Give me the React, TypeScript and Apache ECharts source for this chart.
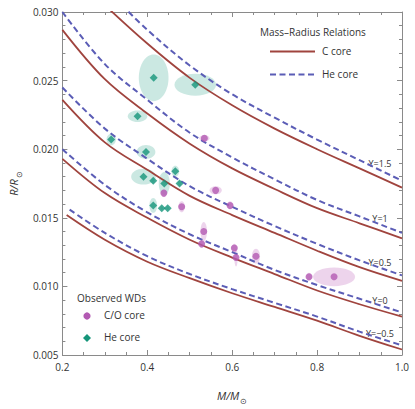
import React, { useEffect, useRef } from "react";
import * as echarts from "echarts";

// Mass–radius relations, [M/Msun, R/Rsun]
const cY15 = [[0.30, 0.0305], [0.4, 0.0277], [0.5, 0.0252], [0.6, 0.0232], [0.7, 0.0215], [0.8, 0.0200], [0.9, 0.0186], [1.0, 0.0172]];
const heY15 = [[0.34, 0.0305], [0.4, 0.0287], [0.5, 0.0261], [0.6, 0.0240], [0.7, 0.0223], [0.8, 0.0207], [0.9, 0.0192], [1.0, 0.0177]];
const cY10 = [[0.2, 0.0287], [0.3, 0.0251], [0.4, 0.0226], [0.5, 0.0204], [0.6, 0.0186], [0.7, 0.0171], [0.8, 0.0157], [0.9, 0.0146], [1.0, 0.0135]];
const heY10 = [[0.2, 0.0300], [0.3, 0.0262], [0.4, 0.0236], [0.5, 0.0212], [0.6, 0.0194], [0.7, 0.0178], [0.8, 0.0163], [0.9, 0.0151], [1.0, 0.0139]];
const cY05 = [[0.2, 0.0236], [0.3, 0.0205], [0.4, 0.0185], [0.5, 0.0166], [0.6, 0.0152], [0.7, 0.0139], [0.8, 0.0126], [0.9, 0.0114], [1.0, 0.0104]];
const heY05 = [[0.2, 0.0245], [0.3, 0.0215], [0.4, 0.0193], [0.5, 0.0173], [0.6, 0.0158], [0.7, 0.0144], [0.8, 0.0131], [0.9, 0.0119], [1.0, 0.0108]];
const cY00 = [[0.2, 0.0193], [0.3, 0.0168], [0.4, 0.0150], [0.5, 0.0134], [0.6, 0.0121], [0.7, 0.0109], [0.8, 0.0097], [0.9, 0.0087], [1.0, 0.0078]];
const heY00 = [[0.2, 0.0200], [0.3, 0.0174], [0.4, 0.0154], [0.5, 0.0138], [0.6, 0.0125], [0.7, 0.0112], [0.8, 0.0101], [0.9, 0.0091], [1.0, 0.0081]];
const cYm05 = [[0.21, 0.0152], [0.3, 0.0134], [0.4, 0.0118], [0.5, 0.0106], [0.6, 0.0095], [0.7, 0.0085], [0.8, 0.0075], [0.9, 0.0064], [1.0, 0.0054]];
const heYm05 = [[0.217, 0.0156], [0.3, 0.0139], [0.4, 0.0122], [0.5, 0.0109], [0.6, 0.0098], [0.7, 0.0088], [0.8, 0.0078], [0.9, 0.0067], [1.0, 0.0057]];

// Observed WDs: [M, R, halfWidth dM, halfHeight dR]
const heCoreWDs = [
  [0.415, 0.0252, 0.035, 0.0017],
  [0.513, 0.0247, 0.049, 0.0008],
  [0.377, 0.0224, 0.023, 0.00042],
  [0.315, 0.0207, 0.011, 0.00042],
  [0.397, 0.0198, 0.022, 0.0005],
  [0.466, 0.0184, 0.009, 0.0004],
  [0.391, 0.0180, 0.029, 0.00057],
  [0.414, 0.0177, 0.004, 0.0002],
  [0.440, 0.0175, 0.013, 0.00083],
  [0.476, 0.0175, 0.004, 0.0002],
  [0.414, 0.0159, 0.009, 0.00054],
  [0.434, 0.0157, 0.003, 0.00015],
  [0.448, 0.0157, 0.003, 0.00015],
];
const coCoreWDs = [
  [0.439, 0.0168, 0.006, 0.0003],
  [0.481, 0.0158, 0.0076, 0.0004],
  [0.5345, 0.0208, 0.012, 0.00024],
  [0.561, 0.0170, 0.0145, 0.0003],
  [0.533, 0.0140, 0.0076, 0.0007],
  [0.528, 0.0131, 0.005, 0.0003],
  [0.595, 0.0159, 0.007, 0.0003],
  [0.605, 0.0128, 0.006, 0.0003],
  [0.609, 0.0121, 0.004, 0.00065],
  [0.656, 0.0122, 0.0095, 0.00054],
  [0.781, 0.0107, 0.006, 0.0003],
  [0.840, 0.0107, 0.0495, 0.00068],
];

const curveLabels = ["Y=1.5", "Y=1", "Y=0.5", "Y=0", "Y=\u22120.5"];

const FONT = "'Open Sans', 'Noto Sans', sans-serif";
const C_COLOR = "#a0443e";
const HE_COLOR = "#5b5db6";
const GREEN = "#15957a";
const GREEN_FILL = "rgba(140, 205, 190, 0.45)";
const PINK = "#b35ab3";
const PINK_FILL = "rgba(215, 160, 212, 0.45)";
const AXIS_COLOR = "#8a8a8a";
const TEXT = "#333";

function ellipseSeries(data: number[][], fill: string) {
  return {
    type: "custom",
    data,
    encode: { x: 0, y: 1 },
    clip: true,
    z: 1,
    renderItem: (_p: any, api: any) => {
      const c = api.coord([api.value(0), api.value(1)]);
      const s = api.size([api.value(2), api.value(3)]);
      return {
        type: "ellipse",
        shape: { cx: c[0], cy: c[1], rx: s[0], ry: s[1] },
        style: { fill },
      };
    },
  };
}

function curve(data: number[][], dashed: boolean) {
  return {
    type: "line",
    data,
    smooth: 0.35,
    showSymbol: false,
    clip: true,
    z: 2,
    lineStyle: dashed
      ? { color: HE_COLOR, width: 2, type: [6, 3.5] }
      : { color: C_COLOR, width: 1.8 },
  };
}

export default function App() {
  const ref = useRef<HTMLDivElement>(null);
  useEffect(() => {
    if (!ref.current) return;
    const chart = echarts.init(ref.current, undefined, { renderer: "svg" });
    const axisCommon = {
      type: "value",
      axisLine: { show: true, lineStyle: { color: AXIS_COLOR, width: 1 } },
      axisTick: { show: true, inside: true, length: 5, lineStyle: { color: AXIS_COLOR } },
      minorTick: { show: true, length: 3, lineStyle: { color: AXIS_COLOR } },
      splitLine: { show: false },
      minorSplitLine: { show: false },
    };
    const labelY = [163, 218, 262.5, 300, 333.5];
    const option: any = {
      animation: false,
      backgroundColor: "#fff",
      grid: { left: 52, right: 13, top: 12, bottom: 47 },
      xAxis: [
        {
          ...axisCommon,
          position: "bottom",
          min: 0.2,
          max: 1.0,
          interval: 0.2,
          minorTick: { ...axisCommon.minorTick, splitNumber: 4 },
          axisLabel: {
            margin: 7,
            fontSize: 10,
            color: TEXT,
            fontFamily: FONT,
            formatter: (v: number) => v.toFixed(1),
          },
          name: "{i|M/M}{s|\u2299}",
          nameLocation: "middle",
          nameGap: 32,
          nameTextStyle: {
            rich: {
              i: { fontStyle: "italic", fontSize: 11, color: TEXT, fontFamily: FONT },
              s: { fontSize: 8, color: TEXT, fontFamily: FONT, padding: [9, 0, 0, 1] },
            },
          },
        },
        {
          ...axisCommon,
          position: "top",
          min: 0.2,
          max: 1.0,
          interval: 0.2,
          minorTick: { ...axisCommon.minorTick, splitNumber: 4 },
          axisLabel: { show: false },
        },
      ],
      yAxis: [
        {
          ...axisCommon,
          position: "left",
          min: 0.005,
          max: 0.03,
          interval: 0.005,
          minorTick: { ...axisCommon.minorTick, splitNumber: 5 },
          axisLabel: {
            margin: 4,
            fontSize: 10,
            color: TEXT,
            fontFamily: FONT,
            formatter: (v: number) => v.toFixed(3),
          },
          name: "{i|R/R}{s|\u2299}",
          nameLocation: "middle",
          nameGap: 39,
          nameTextStyle: {
            rich: {
              i: { fontStyle: "italic", fontSize: 11, color: TEXT, fontFamily: FONT },
              s: { fontSize: 8, color: TEXT, fontFamily: FONT, padding: [9, 0, 0, 1] },
            },
          },
        },
        {
          ...axisCommon,
          position: "right",
          min: 0.005,
          max: 0.03,
          interval: 0.005,
          minorTick: { ...axisCommon.minorTick, splitNumber: 5 },
          axisLabel: { show: false },
        },
      ],
      series: [
        ellipseSeries(heCoreWDs, GREEN_FILL),
        ellipseSeries(coCoreWDs, PINK_FILL),
        curve(cY15, false),
        curve(heY15, true),
        curve(cY10, false),
        curve(heY10, true),
        curve(cY05, false),
        curve(heY05, true),
        curve(cY00, false),
        curve(heY00, true),
        curve(cYm05, false),
        curve(heYm05, true),
        {
          type: "scatter",
          data: coCoreWDs.map((d) => [d[0], d[1]]),
          symbol: "circle",
          symbolSize: 7,
          itemStyle: { color: PINK },
          z: 3,
        },
        {
          type: "scatter",
          data: heCoreWDs.map((d) => [d[0], d[1]]),
          symbol: "diamond",
          symbolSize: [8, 8],
          itemStyle: { color: GREEN },
          z: 3,
        },
      ],
      graphic: [
        // Mass–radius legend
        { type: "text", left: 260, top: 27, style: { text: "Mass\u2013Radius Relations", fontSize: 10, fill: TEXT, fontFamily: FONT } },
        { type: "line", shape: { x1: 270, y1: 51.5, x2: 315, y2: 51.5 }, style: { stroke: C_COLOR, lineWidth: 1.8 } },
        { type: "text", left: 322, top: 45.5, style: { text: "C core", fontSize: 10, fill: TEXT, fontFamily: FONT } },
        { type: "line", shape: { x1: 270, y1: 74.5, x2: 315, y2: 74.5 }, style: { stroke: HE_COLOR, lineWidth: 2, lineDash: [6, 3.5] } },
        { type: "text", left: 322, top: 68.5, style: { text: "He core", fontSize: 10, fill: TEXT, fontFamily: FONT } },
        // Observed WDs legend
        { type: "text", left: 77, top: 293, style: { text: "Observed WDs", fontSize: 10, fill: TEXT, fontFamily: FONT } },
        { type: "circle", shape: { cx: 87, cy: 316, r: 3.6 }, style: { fill: PINK } },
        { type: "text", left: 104, top: 310, style: { text: "C/O core", fontSize: 10, fill: TEXT, fontFamily: FONT } },
        { type: "polygon", shape: { points: [[87, 334], [91, 338], [87, 342], [83, 338]] }, style: { fill: GREEN } },
        { type: "text", left: 104, top: 332, style: { text: "He core", fontSize: 10, fill: TEXT, fontFamily: FONT } },
        // Curve labels
        ...curveLabels.map((t, i) => ({
          type: "text",
          x: 380,
          y: labelY[i],
          style: { text: t, fontSize: 9, fill: TEXT, fontFamily: FONT, align: "center", verticalAlign: "middle" },
        })),
      ],
    };
    chart.setOption(option);
    return () => chart.dispose();
  }, []);
  return <div ref={ref} style={{ position: "fixed", left: 0, top: 0, width: 415, height: 409 }} />;
}
